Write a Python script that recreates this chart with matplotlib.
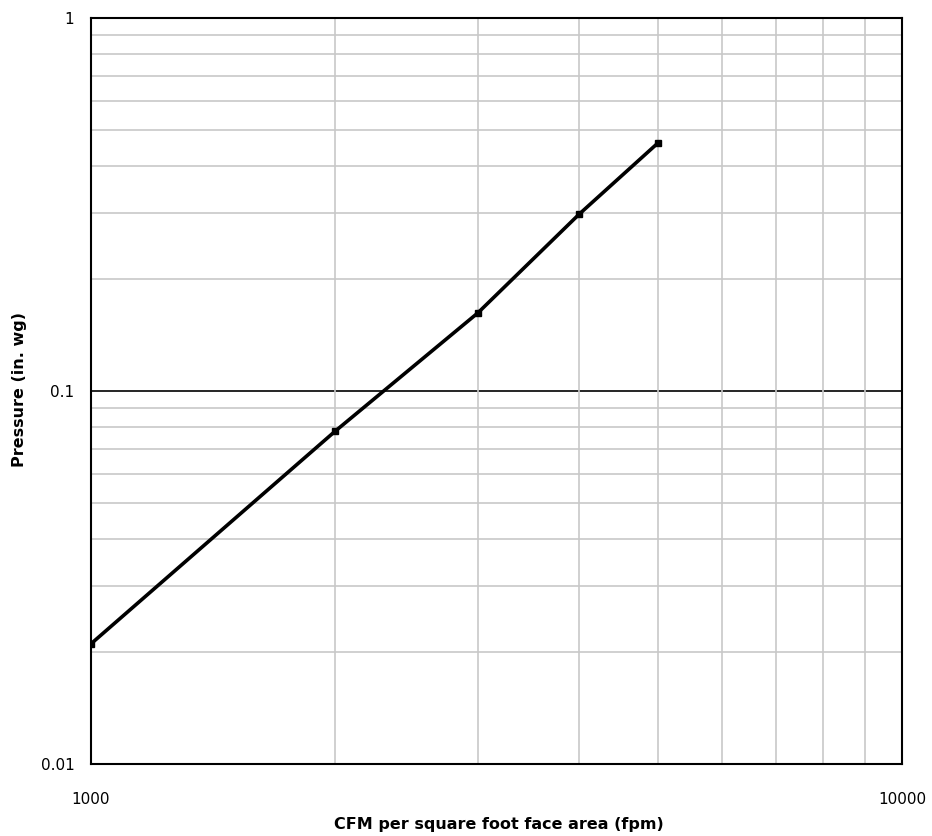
import matplotlib
matplotlib.use("Agg")
import matplotlib.pyplot as plt
from matplotlib.ticker import FixedLocator, NullFormatter

# face velocity (fpm) vs pressure drop (in. wg)
velocity = [1000, 2000, 3000, 4000, 5000]
pressure = [0.021, 0.078, 0.162, 0.298, 0.462]

x_ticks = [1000, 10000]
x_tick_labels = ["1000", "10000"]
y_ticks = [0.01, 0.1, 1]
y_tick_labels = ["0.01", "0.1", "1"]

plt.rcParams['font.family'] = ['DejaVu Sans']

fig = plt.figure(figsize=(9.32, 8.36), dpi=100)
ax = fig.add_axes([0.0976, 0.0861, 0.8702, 0.8924])

ax.set_xscale('log')
ax.set_yscale('log')
ax.set_xlim(1000, 10000)
ax.set_ylim(0.01, 1)

# grid: gray minor lines, black line at 0.1
ax.xaxis.set_minor_locator(FixedLocator([k * 1000 for k in range(2, 10)]))
ax.yaxis.set_minor_locator(FixedLocator([k * 0.01 for k in range(2, 10)] +
                                        [k * 0.1 for k in range(2, 10)]))
ax.xaxis.set_minor_formatter(NullFormatter())
ax.yaxis.set_minor_formatter(NullFormatter())
ax.grid(which='minor', color='#c8c8c8', linewidth=1.2)
ax.axhline(0.1, color='black', linewidth=1.2, zorder=1)

ax.plot(velocity, pressure, color='black', linewidth=2.6,
        marker='s', markersize=4, zorder=3)

ax.set_xticks(x_ticks)
ax.set_xticklabels(x_tick_labels)
ax.set_yticks(y_ticks)
ax.set_yticklabels(y_tick_labels)
ax.tick_params(which='both', length=0)
ax.tick_params(axis='x', pad=20, labelsize=11)
ax.tick_params(axis='y', pad=12, labelsize=11)

for s in ax.spines.values():
    s.set_linewidth(1.5)
    s.set_color('black')

fig.text(0.535, 0.014, 'CFM per square foot face area (fpm)', fontsize=11.5,
         fontweight='bold', ha='center', va='center')
fig.text(0.021, 0.534, 'Pressure (in. wg)', fontsize=11.5, fontweight='bold',
         rotation=90, ha='center', va='center')

fig.savefig('out.png', dpi=100)
